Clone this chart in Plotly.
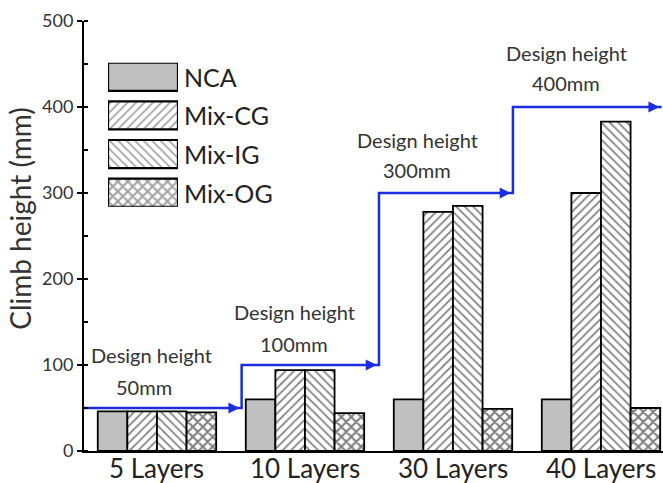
import plotly.graph_objects as go

# ---- data ----
categories = ["5 Layers", "10 Layers", "30 Layers", "40 Layers"]
series_names = ["NCA", "Mix-CG", "Mix-IG", "Mix-OG"]
nca = [46, 60, 60, 60]
mix_cg = [46, 94, 278, 300]
mix_ig = [46, 94, 285, 383]
mix_og = [45, 44, 49, 50]
design_heights = [50, 100, 300, 400]
# x positions (category units) where the design-height line starts, steps up, and ends
step_edges = [-0.49, 0.572, 1.5, 2.405, 3.41]
y_ticks = [0, 100, 200, 300, 400, 500]

series_values = [nca, mix_cg, mix_ig, mix_og]

# ---- styles ----
FONT = "Lato"
TXT = "#333333"
BLUE = "#1a2ee0"
fills = ["#c0c0c0", "white", "white", "white"]
patterns = ["", "/", "\\", "x"]
pat_sizes = [6, 6, 6, 7]
pat_solidity = [0.28, 0.28, 0.28, 0.5]

xs = list(range(len(categories)))

fig = go.Figure()

for name, vals, fc, pat, ps, pso in zip(series_names, series_values, fills,
                                        patterns, pat_sizes, pat_solidity):
    fig.add_trace(go.Bar(
        x=xs, y=vals, name=name,
        marker=dict(
            color=fc,
            line=dict(color="black", width=1.8),
            pattern=dict(shape=pat, fgcolor="#000000", bgcolor="white",
                         size=ps, solidity=pso),
        ),
        showlegend=False,
    ))

# design-height step line
line_x, line_y = [], []
for i, h in enumerate(design_heights):
    line_x += [step_edges[i], step_edges[i + 1]]
    line_y += [h, h]
fig.add_trace(go.Scatter(
    x=line_x, y=line_y, mode="lines",
    line=dict(color=BLUE, width=2.5),
    showlegend=False, cliponaxis=False,
))

annotations = []
# arrowheads at the end of each level
for i, h in enumerate(design_heights):
    tip = step_edges[i + 1] - 0.015
    annotations.append(dict(
        x=tip, y=h, ax=tip - 0.08, ay=h, xref="x", yref="y",
        axref="x", ayref="y", showarrow=True, arrowhead=2,
        arrowsize=1.0, arrowwidth=2.2, arrowcolor=BLUE, text="",
    ))

# design-height captions (two lines each)
caption_pos = [
    ((-0.034, 111.6), (-0.088, 74.4)),
    ((0.932, 161.6), (0.929, 124.4)),
    ((1.757, 361.6), (1.757, 326.7)),
    ((2.77, 462.8), (2.764, 427.9)),
]
for h, ((x1, y1), (x2, y2)) in zip(design_heights, caption_pos):
    annotations.append(dict(x=x1, y=y1, xref="x", yref="y", text="Design height",
                            showarrow=False, font=dict(family=FONT, size=20, color=TXT)))
    annotations.append(dict(x=x2, y=y2, xref="x", yref="y", text=f"{h}mm",
                            showarrow=False, font=dict(family=FONT, size=20, color=TXT)))

# category labels under the axis (kept tight to the bottom edge)
for xv, cat in zip(xs, categories):
    annotations.append(dict(x=xv, y=0, xref="x", yref="paper", text=cat,
                            yanchor="middle", yshift=-17, showarrow=False,
                            font=dict(family=FONT, size=26, color="#222222")))

# y-axis title, placed a little above the plot-area centre
annotations.append(dict(x=0, y=0.54, xref="paper", yref="paper", text="Climb height (mm)",
                        textangle=-90, xanchor="center", yanchor="middle", xshift=-64,
                        showarrow=False, font=dict(family=FONT, size=28, color=TXT)))

# legend: swatches drawn as bars on an inset axis, names as text
legend_rows = list(range(len(series_names)))
fig.add_trace(go.Bar(
    x=[1] * len(series_names), y=legend_rows, orientation="h",
    width=0.727, xaxis="x2", yaxis="y2",
    marker=dict(
        color=fills,
        line=dict(color="black", width=2.2),
        pattern=dict(shape=patterns, fgcolor="#000000", bgcolor="white",
                     size=pat_sizes, solidity=pat_solidity),
    ),
    showlegend=False, hoverinfo="skip",
))
for r, name in zip(legend_rows, series_names):
    annotations.append(dict(x=1.0, y=r, xref="x2", yref="y2", text=name,
                            xanchor="left", xshift=4, showarrow=False,
                            font=dict(family=FONT, size=25, color="#222222")))

fig.update_layout(
    width=663, height=483,
    margin=dict(l=84, r=0, t=21, b=32),
    paper_bgcolor="white", plot_bgcolor="white",
    barmode="group", bargap=0.2, bargroupgap=0,
    font=dict(family=FONT, color=TXT),
    annotations=annotations,
    xaxis=dict(
        range=[-0.493, 3.419], tickvals=xs, showticklabels=False,
        showgrid=False, zeroline=False, showline=True, linecolor="black",
        linewidth=2, ticks="", automargin=False,
    ),
    yaxis=dict(
        range=[0, 500], tickvals=y_ticks, showgrid=False, zeroline=False,
        showline=True, linecolor="black", linewidth=2, automargin=False,
        ticks="outside", ticklen=5, tickwidth=1.5, tickcolor="black",
        minor=dict(dtick=50, ticks="inside", ticklen=4, tickwidth=1.5, tickcolor="black"),
        tickfont=dict(family=FONT, size=18, color=TXT),
    ),
    xaxis2=dict(domain=[0.0415, 0.1623], anchor="y2", range=[0, 1], visible=False),
    yaxis2=dict(domain=[0.568, 0.903], anchor="x2", range=[3.364, -0.364], visible=False),
)

fig.write_html("out.html")
